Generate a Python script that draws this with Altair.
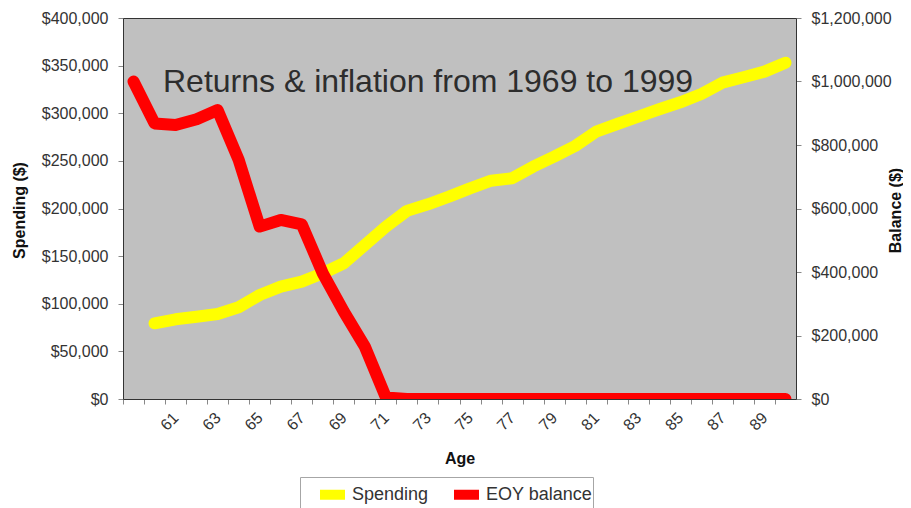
import altair as alt
import pandas as pd

ages = list(range(59, 91))
spending = [None, 79500, 83700, 86400, 89300, 96300, 109200, 117900, 123200,
            132000, 142500, 161700, 180900, 197500, 204400, 212400, 221200,
            229200, 231700, 243900, 254400, 265600, 280700, 288700, 296400,
            304200, 311500, 320200, 332100, 337800, 343700, 353100]
balance = [1000000, 868000, 863000, 881000, 910000, 753000, 543000, 564000,
           550000, 396000, 275000, 165000, 5000] + [0] * 19
series_names = ["Spending", "EOY balance"]
series_colors = ["#FFFF00", "#FF0000"]
annotation = "Returns & inflation from 1969 to 1999"
left_ticks = list(range(0, 400001, 50000))
right_ticks = list(range(0, 1200001, 200000))

df = pd.DataFrame({"age": ages, "spending": spending, "balance": balance})

FONT = "Liberation Sans"
W, H = 673, 381
step = W / 32.0

x_enc = alt.X(
    "age:Q",
    scale=alt.Scale(domain=[58.5, 90.5], nice=False, zero=False),
    axis=alt.Axis(
        values=ages,
        tickOffset=-step / 2,
        labelOffset=step / 2,
        labelExpr="datum.value % 2 == 1 && datum.value >= 61 ? datum.value : ''",
        labelAngle=315,
        labelAlign="right",
        labelBaseline="middle",
        labelPadding=11,
        labelFontSize=16,
        labelFont=FONT,
        labelColor="#333333",
        labelOverlap=False,
        labelFlush=False,
        tickSize=5,
        tickColor="#888888",
        domainColor="#333333",
        grid=False,
        title="Age",
        titleFont=FONT,
        titleFontSize=16,
        titleFontWeight="bold",
        titleColor="#111111",
        titleBaseline="alphabetic",
        titleY=64,
    ),
)

color_enc = alt.Color(
    "series:N",
    scale=alt.Scale(domain=series_names, range=series_colors),
    legend=alt.Legend(
        title=None,
        orient="none",
        legendX=177,
        legendY=459,
        direction="horizontal",
        fillColor="#FFFFFF",
        strokeColor="#A6A6A6",
        padding=0,
        symbolOffset=15,
        columnPadding=5,
        labelOffset=2,
        symbolType="stroke",
        symbolStrokeWidth=10,
        symbolSize=625,
        labelFontSize=18,
        labelFont=FONT,
        labelColor="#333333",
        labelLimit=0,
    ),
)

spend_line = alt.Chart(df).transform_calculate(
    series="'Spending'"
).mark_line(
    strokeWidth=12, strokeCap="round", strokeJoin="round", clip=True
).encode(
    x=x_enc,
    y=alt.Y(
        "spending:Q",
        scale=alt.Scale(domain=[0, 400000], nice=False),
        axis=alt.Axis(
            orient="left",
            values=left_ticks,
            format="$,.0f",
            labelFontSize=16,
            labelFont=FONT,
            labelColor="#333333",
            labelPadding=10,
            tickSize=5,
            tickColor="#888888",
            domainColor="#333333",
            grid=False,
            title="Spending ($)",
            titleFont=FONT,
            titleFontSize=16,
            titleFontWeight="bold",
            titleColor="#111111",
            titleAngle=270,
            titleBaseline="middle",
            titleAlign="center",
            titleX=-104,
            titleY=192,
        ),
    ),
    color=color_enc,
)

bal_line = alt.Chart(df).transform_calculate(
    series="'EOY balance'"
).mark_line(
    strokeWidth=12, strokeCap="round", strokeJoin="round", clip=True
).encode(
    x=x_enc,
    y=alt.Y(
        "balance:Q",
        scale=alt.Scale(domain=[0, 1200000], nice=False),
        axis=alt.Axis(
            orient="right",
            values=right_ticks,
            format="$,.0f",
            labelFontSize=16,
            labelFont=FONT,
            labelColor="#333333",
            labelPadding=10,
            tickSize=5,
            tickColor="#888888",
            domainColor="#333333",
            grid=False,
            title="Balance ($)",
            titleFont=FONT,
            titleFontSize=16,
            titleFontWeight="bold",
            titleColor="#111111",
            titleAngle=270,
            titleBaseline="middle",
            titleAlign="center",
            titleX=99,
            titleY=192,
        ),
    ),
    color=color_enc,
)

label = alt.Chart(pd.DataFrame({"t": [annotation]})).mark_text(
    font=FONT, fontSize=32, color="#2D2D2D", align="left", baseline="alphabetic"
).encode(x=alt.value(40), y=alt.value(73.7), text="t:N")

chart = (
    alt.layer(spend_line, bal_line, label)
    .resolve_scale(y="independent")
    .properties(
        width=W,
        height=H,
        autosize=alt.AutoSizeParams(type="none"),
        padding={"left": 115, "top": 10, "right": 107, "bottom": 109},
        background="#FFFFFF",
    )
    .configure_view(fill="#C0C0C0", stroke="#333333", strokeWidth=1)
)

chart.save("out.html", embed_options={"renderer": "svg", "actions": False})
